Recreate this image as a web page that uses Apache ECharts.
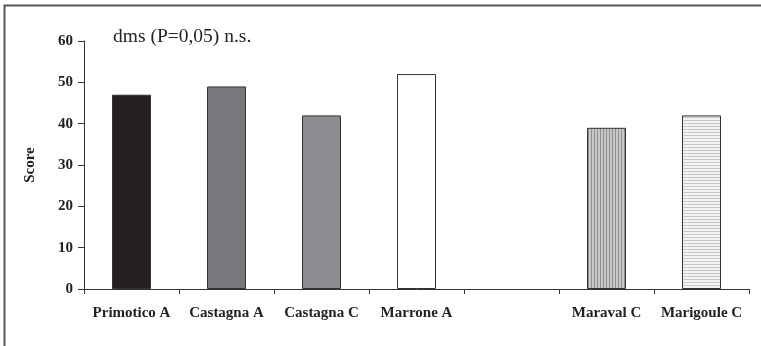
<!DOCTYPE html>
<html>
<head>
<meta charset="utf-8">
<script src="https://cdn.jsdelivr.net/npm/echarts@6/dist/echarts.min.js"></script>
<style>
  html, body { margin: 0; padding: 0; background: #fff; }
  #main { width: 761px; height: 346px; }
</style>
</head>
<body>
<div id="main"></div>
<script>
// data
var categories = ['Primotico A', 'Castagna A', 'Castagna C', 'Marrone A', '', 'Maraval C', 'Marigoule C'];
var scores = [47, 49, 42, 52, '-', 39, 42];
var yTicks = [0, 10, 20, 30, 40, 50, 60];

var FONT = '"Liberation Serif", "DejaVu Serif", serif';

// striped fills for the last two bars
function stripes(vertical, bg, fg) {
  var c = document.createElement('canvas');
  c.width = 3; c.height = 3;
  var ctx = c.getContext('2d');
  ctx.fillStyle = bg;
  ctx.fillRect(0, 0, 3, 3);
  ctx.fillStyle = fg;
  if (vertical) ctx.fillRect(0, 0, 1, 3);
  else ctx.fillRect(0, 0, 3, 1);
  return c;
}

var fills = [
  '#231f20',
  '#77787b',
  '#8b8c8f',
  '#ffffff',
  '#ffffff',
  { image: stripes(true, '#c8c8c8', '#8e8e8e'), repeat: 'repeat' },
  { image: stripes(false, '#f2f2f2', '#c9c9c9'), repeat: 'repeat' }
];

var chart = echarts.init(document.getElementById('main'), null, { renderer: 'canvas' });

var option = {
  animation: false,
  backgroundColor: '#fff',
  graphic: [
    {
      type: 'rect',
      shape: { x: 4.5, y: 5.5, width: 800, height: 400 },
      style: { fill: null, stroke: '#555', lineWidth: 2 },
      silent: true
    },
    {
      type: 'text',
      left: 113,
      top: 27,
      style: { text: 'dms (P=0,05) n.s.', font: '19.5px ' + FONT, fill: '#222' }
    }
  ],
  grid: { left: 84, right: 12, top: 41, bottom: 57 },
  xAxis: {
    type: 'category',
    data: categories,
    axisLine: { lineStyle: { color: '#333', width: 1 } },
    axisTick: { show: true, alignWithLabel: false, length: 5, lineStyle: { color: '#333' } },
    axisLabel: {
      interval: 0,
      margin: 17,
      color: '#222',
      fontFamily: FONT,
      fontWeight: 'bold',
      fontSize: 15
    }
  },
  yAxis: {
    type: 'value',
    min: yTicks[0],
    max: yTicks[yTicks.length - 1],
    interval: 10,
    name: 'Score',
    nameLocation: 'middle',
    nameRotate: 90,
    nameGap: 46,
    nameTextStyle: { fontFamily: FONT, fontWeight: 'bold', fontSize: 15, color: '#222' },
    axisLine: { show: true, lineStyle: { color: '#333', width: 1 } },
    axisTick: { show: true, length: 6, lineStyle: { color: '#333' } },
    splitLine: { show: false },
    axisLabel: {
      margin: 11,
      color: '#222',
      fontFamily: FONT,
      fontWeight: 'bold',
      fontSize: 15
    }
  },
  series: [{
    type: 'bar',
    barWidth: 39,
    data: scores.map(function (v, i) {
      return {
        value: v,
        itemStyle: { color: fills[i], borderColor: '#333', borderWidth: 1 }
      };
    })
  }]
};

chart.setOption(option);
</script>
</body>
</html>
